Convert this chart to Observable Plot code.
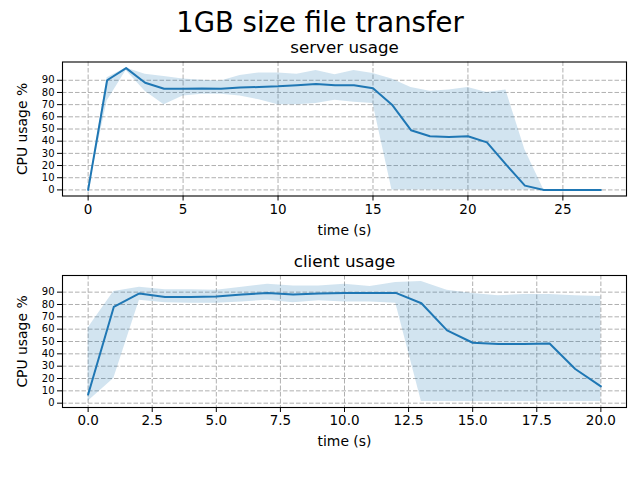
<!DOCTYPE html>
<html>
<head>
<meta charset="utf-8">
<script src="https://cdn.jsdelivr.net/npm/d3@7"></script>
<script src="https://cdn.jsdelivr.net/npm/@observablehq/plot@0.6"></script>
<style>
  html, body { margin: 0; padding: 0; background: #fff; }
  #root { position: relative; width: 640px; height: 480px; font-family: "DejaVu Sans", sans-serif; background: #fff; overflow: hidden; }
  #title { position: absolute; left: 0; width: 640px; top: 5px; text-align: center; font-size: 27.5px; line-height: 34px; color: #000; }
  .panel { position: absolute; left: 0; }
</style>
</head>
<body>
<div id="root">
  <div id="title">1GB size file transfer</div>
  <div id="p1" class="panel" style="top:36px"></div>
  <div id="p2" class="panel" style="top:246px"></div>
</div>
<script>
// ---- data ----
const serverTime  = d3.range(0, 28);
const serverMean  = [0, 90, 100, 88, 83, 83, 83.3, 83, 84, 84.5, 85, 86, 87, 86, 86, 83.5, 70, 49, 44, 43.5, 44, 39, 21, 3.5, 0, 0, 0, 0];
const serverUpper = [0, 92, 100, 95, 93, 91, 90, 89.5, 94, 96, 96, 95, 98, 94.5, 98, 95.5, 91, 84, 81, 82, 84, 80, 82, 33, 0, 0, 0, 0];
const serverLower = [0, 73, 98, 81, 70, 77, 78.5, 78.5, 77, 74, 70, 70, 71, 73.5, 72, 71, 0, 0, 0, 0, 0, 0, 0, 0, 0, 0, 0, 0];

const clientTime  = d3.range(0, 21);
const clientMean  = [7, 78, 89, 86, 86, 86.4, 88, 89.4, 88, 89, 89.4, 89.4, 89.4, 81, 59, 49, 48, 48, 48.4, 27.7, 13.6];
const clientUpper = [61, 90.5, 94, 92, 92, 91.6, 94, 96.5, 95, 95, 96.5, 94.5, 97.8, 98.6, 91.6, 89, 87, 88, 88, 87, 86.4];
const clientLower = [1.5, 20, 83.5, 81.5, 81, 81, 82, 83.5, 81.5, 83, 82, 82, 81, 1.4, 1.4, 1.4, 1.4, 1.4, 1.4, 1.4, 1.4];

const yTicks = d3.range(0, 100, 10);
const serverXTicks = [0, 5, 10, 15, 20, 25];
const clientXTicks = [0, 2.5, 5, 7.5, 10, 12.5, 15, 17.5, 20];

const blue = "#1f77b4";
const gridStyle = {stroke: "#b0b0b0", strokeOpacity: 1, strokeWidth: 1, strokeDasharray: "4.5,2"};

function panel({time, mean, upper, lower, xDomain, yDomain, xTicks, xFormat, title, height, marginTop, marginBottom}) {
  const rows = time.map((t, i) => ({t, v: mean[i], hi: upper[i], lo: lower[i]}));
  return Plot.plot({
    width: 640,
    height,
    marginLeft: 62,
    marginRight: 14,
    marginTop,
    marginBottom,
    style: {fontFamily: "DejaVu Sans, sans-serif", fontSize: "13px", color: "#000", background: "#fff"},
    x: {domain: xDomain},
    y: {domain: yDomain},
    marks: [
      Plot.gridX(xTicks, gridStyle),
      Plot.gridY(yTicks, gridStyle),
      Plot.areaY(rows, {x: "t", y1: "lo", y2: "hi", fill: blue, fillOpacity: 0.2}),
      Plot.lineY(rows, {x: "t", y: "v", stroke: blue, strokeWidth: 2}),
      Plot.frame({stroke: "#000", strokeWidth: 1.1}),
      Plot.axisX(xTicks, {tickSize: 5, tickPadding: 3, tickFormat: xFormat, label: null, fontSize: 13.5}),
      Plot.axisY(yTicks, {tickSize: 5, tickPadding: 3, label: null, fontSize: 10}),
      Plot.text([title], {frameAnchor: "top", dy: -14, fontSize: 16.7, textAnchor: "middle", lineAnchor: "middle"}),
      Plot.text(["time (s)"], {frameAnchor: "bottom", dy: 34.5, fontSize: 13.9, textAnchor: "middle", lineAnchor: "middle"}),
      Plot.text(["CPU usage %"], {frameAnchor: "left", dx: -40, rotate: -90, fontSize: 13.9, textAnchor: "middle", lineAnchor: "middle"})
    ]
  });
}

document.getElementById("p1").appendChild(panel({
  time: serverTime, mean: serverMean, upper: serverUpper, lower: serverLower,
  xDomain: [-1.35, 28.35], yDomain: [-5, 105], xTicks: serverXTicks, xFormat: d3.format("d"),
  title: "server usage", height: 210, marginTop: 25.5, marginBottom: 50.5
}));
document.getElementById("p2").appendChild(panel({
  time: clientTime, mean: clientMean, upper: clientUpper, lower: clientLower,
  xDomain: [-1, 21], yDomain: [-3.5, 103.5], xTicks: clientXTicks, xFormat: d3.format(".1f"),
  title: "client usage", height: 234, marginTop: 29, marginBottom: 73
}));
</script>
</body>
</html>
